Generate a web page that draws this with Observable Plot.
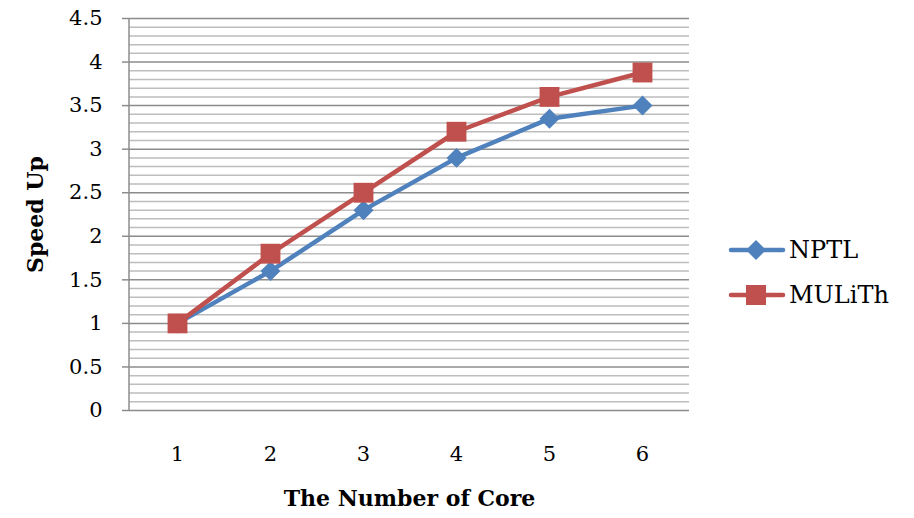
<!DOCTYPE html>
<html>
<head>
<meta charset="utf-8">
<script src="https://cdn.jsdelivr.net/npm/d3@7"></script>
<script src="https://cdn.jsdelivr.net/npm/@observablehq/plot@0.6"></script>
<style>
  html, body { margin: 0; padding: 0; background: #fff; }
  #wrap { position: relative; width: 914px; height: 518px; }
  .legend { position: absolute; left: 728px; font-family: "DejaVu Serif", serif; font-size: 24px; color: #000; display: flex; align-items: center; }
  .legend svg { margin-right: 3px; }
</style>
</head>
<body>
<div id="wrap"></div>
<script>
const cores = [1, 2, 3, 4, 5, 6];
const nptl = [1, 1.6, 2.3, 2.9, 3.35, 3.5];
const mulith = [1, 1.8, 2.5, 3.2, 3.6, 3.88];
const seriesNames = ["NPTL", "MULiTh"];
const seriesColors = ["#4F81BD", "#C0504D"];
const yMajorTicks = [0, 0.5, 1, 1.5, 2, 2.5, 3, 3.5, 4, 4.5];
const yMinorTicks = d3.range(0, 45).map(i => i / 10).filter(v => !yMajorTicks.includes(v));
const xTitle = "The Number of Core";
const yTitle = "Speed Up";

const rows = [];
cores.forEach((c, i) => {
  rows.push({core: c, value: nptl[i], series: seriesNames[0]});
  rows.push({core: c, value: mulith[i], series: seriesNames[1]});
});
const nRows = rows.filter(d => d.series === "NPTL");
const mRows = rows.filter(d => d.series === "MULiTh");

// left axis line drawn at the frame's left edge
function leftAxisLine(index, scales, values, dimensions) {
  const {marginLeft, marginTop, height, marginBottom} = dimensions;
  const ns = "http://www.w3.org/2000/svg";
  const line = document.createElementNS(ns, "line");
  line.setAttribute("x1", marginLeft);
  line.setAttribute("x2", marginLeft);
  line.setAttribute("y1", marginTop);
  line.setAttribute("y2", height - marginBottom);
  line.setAttribute("stroke", "#8c8c8c");
  line.setAttribute("stroke-width", 1.5);
  return line;
}

const chart = Plot.plot({
  width: 914,
  height: 518,
  marginLeft: 129,
  marginRight: 225,
  marginTop: 18,
  marginBottom: 108,
  style: {fontFamily: "DejaVu Serif, serif", fontSize: "21px", color: "#000", background: "#fff"},
  x: {type: "point", domain: cores, padding: 0.5},
  y: {domain: [0, 4.5]},
  marks: [
    Plot.ruleY(yMinorTicks, {stroke: "#bdbdbd", strokeWidth: 1.5}),
    Plot.ruleY(yMajorTicks, {stroke: "#8c8c8c", strokeWidth: 1.5}),
    leftAxisLine,
    Plot.axisY({ticks: yMajorTicks, tickSize: 7, tickPadding: 20, stroke: "#8c8c8c", strokeWidth: 1.5, label: null, tickFormat: d => String(d), fontSize: 21}),
    Plot.axisX({tickSize: 0, tickPadding: 36, label: null, fontSize: 21}),
    Plot.line(nRows, {x: "core", y: "value", stroke: seriesColors[0], strokeWidth: 4.5}),
    Plot.line(mRows, {x: "core", y: "value", stroke: seriesColors[1], strokeWidth: 4.5}),
    Plot.dot(nRows, {x: "core", y: "value", symbol: "diamond2", fill: seriesColors[0], stroke: "none", r: 9}),
    Plot.dot(mRows, {x: "core", y: "value", symbol: "square", fill: seriesColors[1], stroke: "none", r: 11.2}),
    Plot.text([xTitle], {frameAnchor: "bottom", textAnchor: "middle", dy: 95, fontWeight: "bold", fontSize: 22, text: d => d}),
    Plot.text([yTitle], {frameAnchor: "left", textAnchor: "middle", dx: -94, rotate: -90, fontWeight: "bold", fontSize: 22, text: d => d})
  ]
});
const wrap = document.getElementById("wrap");
wrap.appendChild(chart);

function legendItem(name, color, symbol, top) {
  const div = document.createElement("div");
  div.className = "legend";
  div.style.top = (top - 15) + "px";
  const shape = symbol === "diamond"
    ? `<path d="M28,5 L38,15 L28,25 L18,15 Z" fill="${color}"/>`
    : `<rect x="18" y="5" width="20" height="20" fill="${color}"/>`;
  div.innerHTML = `<svg width="58" height="30"><line x1="3" x2="55" y1="15" y2="15" stroke="${color}" stroke-width="4.5" stroke-linecap="round"/>${shape}</svg><span>${name}</span>`;
  wrap.appendChild(div);
}
legendItem(seriesNames[0], seriesColors[0], "diamond", 250);
legendItem(seriesNames[1], seriesColors[1], "square", 295);
</script>
</body>
</html>
